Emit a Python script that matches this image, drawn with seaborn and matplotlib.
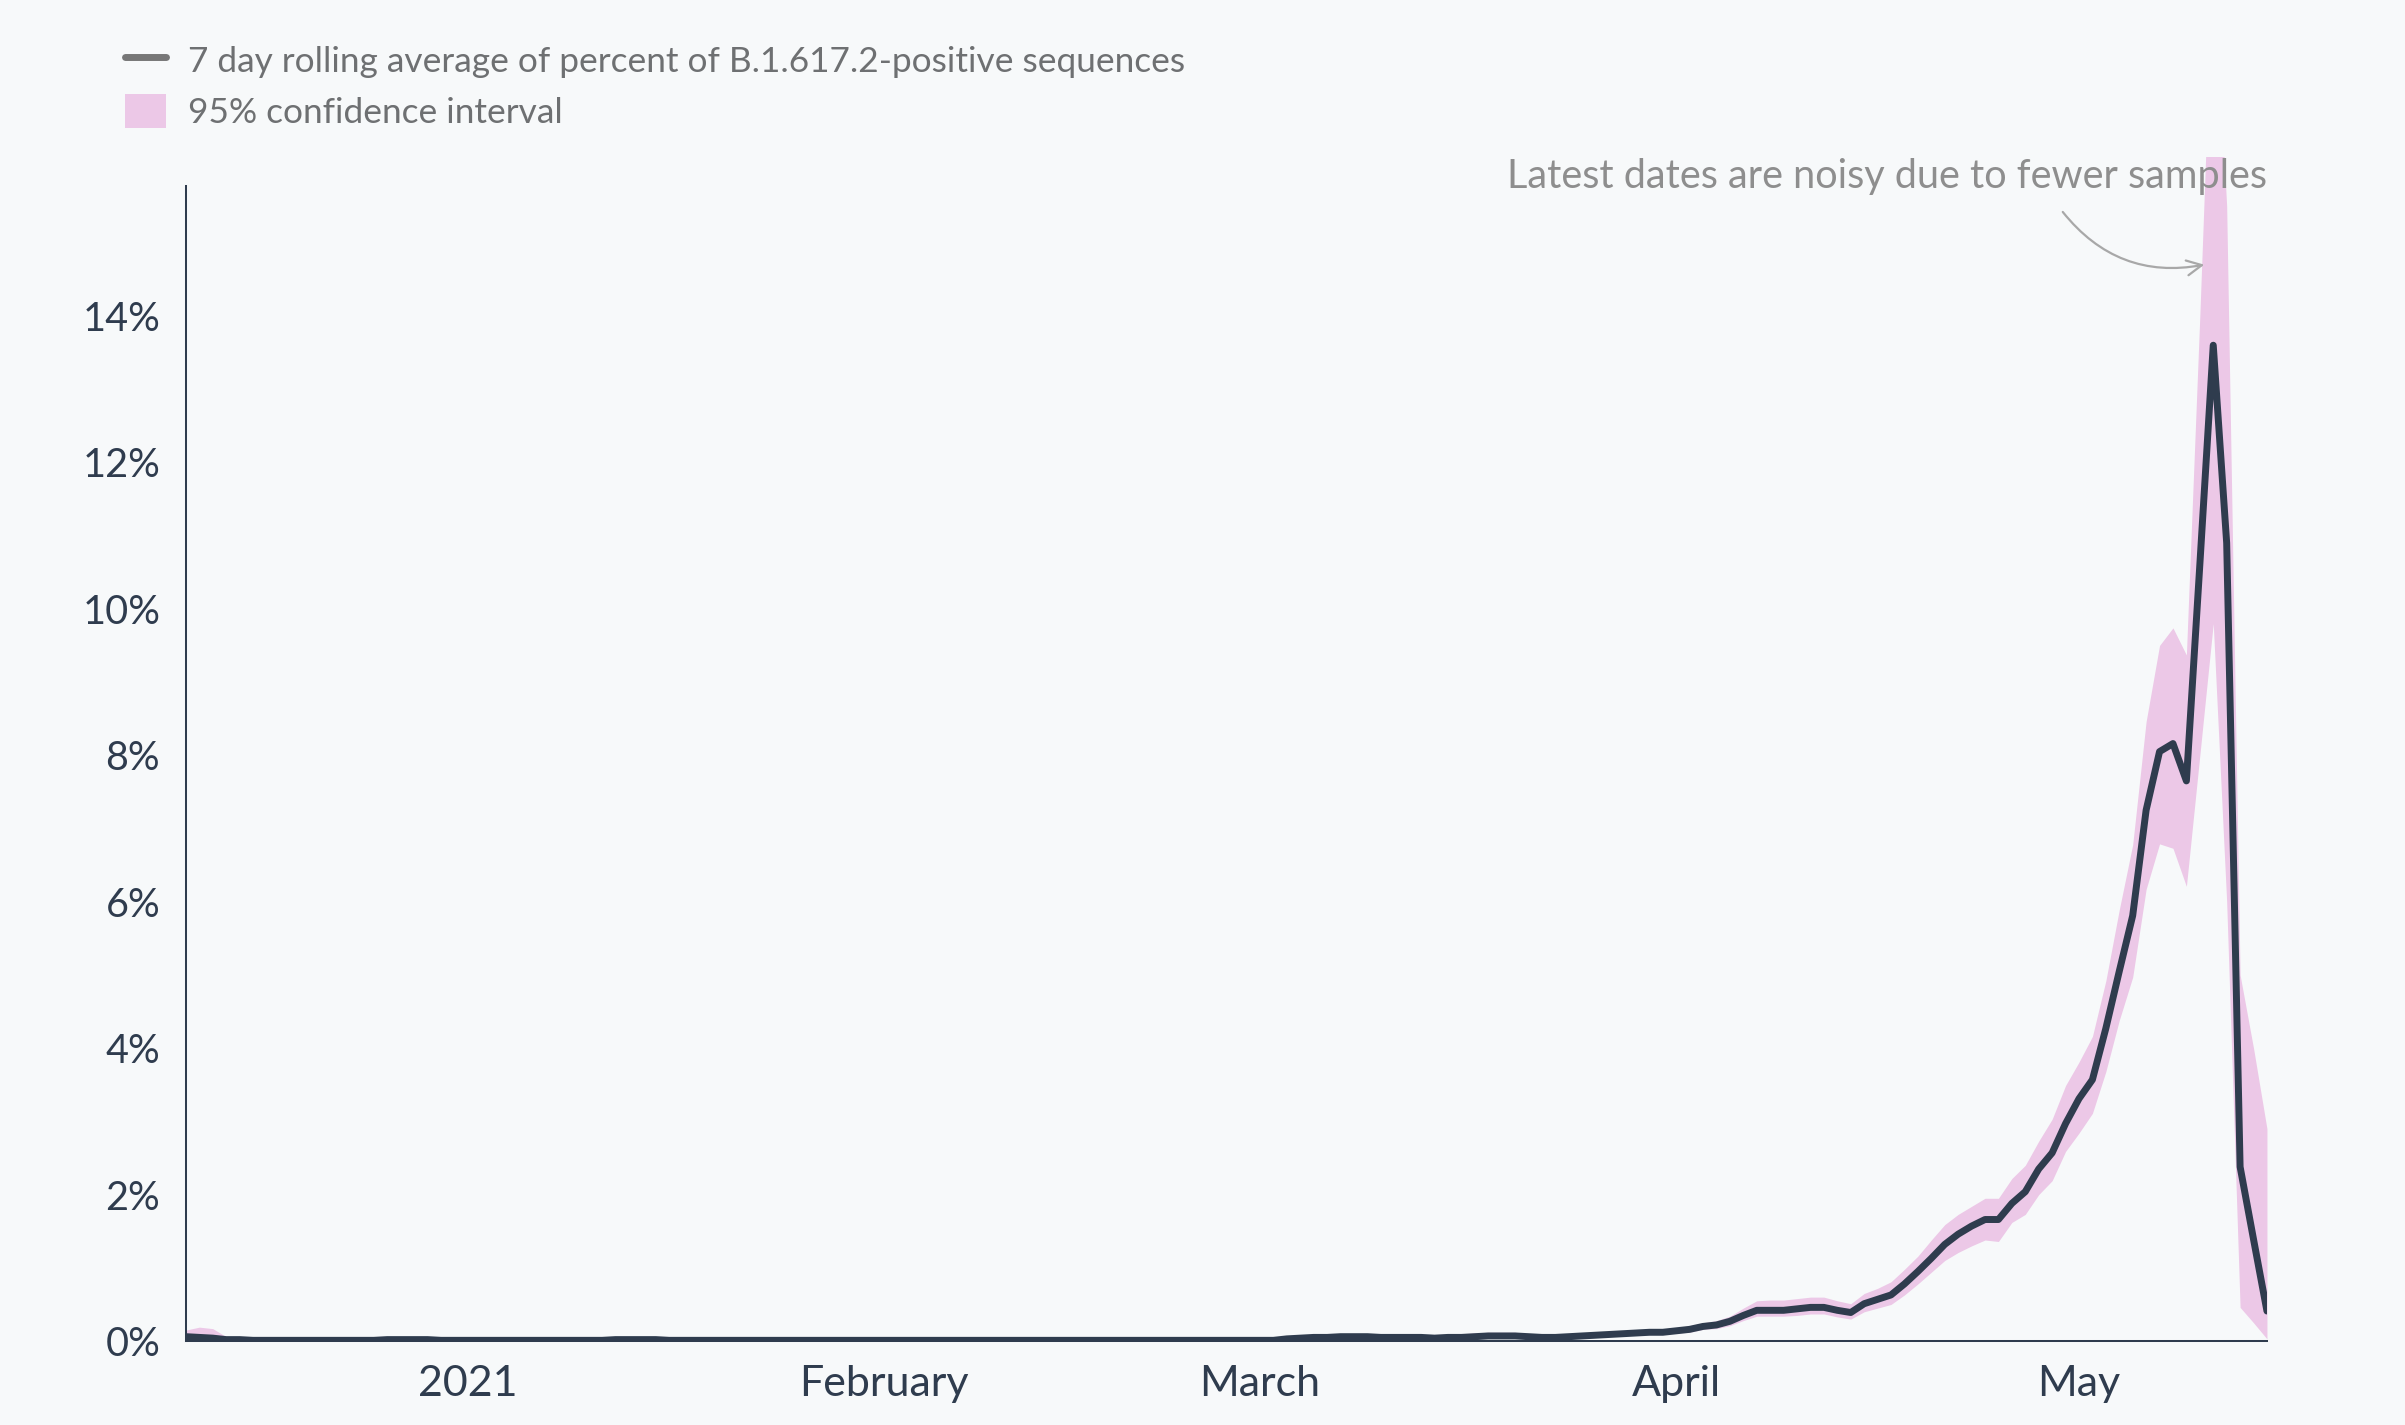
import numpy as np
import pandas as pd
import matplotlib
matplotlib.use("Agg")
import matplotlib.pyplot as plt
from matplotlib.lines import Line2D
from matplotlib.patches import Patch
import seaborn as sns

# daily series, 11 Dec 2020 .. 15 May 2021 (values in percent)
start_date = "2020-12-11"
end_date = "2021-05-15"

rolling_avg = [
    # Dec 11-31
    0.06, 0.05, 0.04, 0.02, 0.02, 0.01, 0.01, 0.01, 0.01, 0.01, 0.01,
    0.01, 0.01, 0.01, 0.01, 0.02, 0.02, 0.02, 0.02, 0.01, 0.01,
    # Jan
    0.01, 0.01, 0.01, 0.01, 0.01, 0.01, 0.01, 0.01, 0.01, 0.01,
    0.01, 0.02, 0.02, 0.02, 0.02, 0.01, 0.01, 0.01, 0.01, 0.01,
    0.01, 0.01, 0.01, 0.01, 0.01, 0.01, 0.01, 0.01, 0.01, 0.01, 0.01,
    # Feb
    0.01, 0.01, 0.01, 0.01, 0.01, 0.01, 0.01, 0.01, 0.01, 0.01,
    0.01, 0.01, 0.01, 0.01, 0.01, 0.01, 0.01, 0.01, 0.01, 0.01,
    0.01, 0.01, 0.01, 0.01, 0.01, 0.01, 0.01, 0.01,
    # Mar
    0.01, 0.01, 0.03, 0.04, 0.05, 0.05, 0.06, 0.06, 0.06, 0.05,
    0.05, 0.05, 0.05, 0.04, 0.05, 0.05, 0.06, 0.07, 0.07, 0.07,
    0.06, 0.05, 0.05, 0.06, 0.07, 0.08, 0.09, 0.10, 0.11, 0.12, 0.12,
    # Apr
    0.14, 0.16, 0.20, 0.22, 0.27, 0.35, 0.42, 0.42, 0.42, 0.44,
    0.46, 0.46, 0.42, 0.39, 0.51, 0.57, 0.63, 0.78, 0.95, 1.13,
    1.32, 1.46, 1.57, 1.66, 1.66, 1.88, 2.04, 2.35, 2.57, 2.97,
    # May 1-15
    3.31, 3.57, 4.27, 5.05, 5.81, 7.25, 8.05, 8.16, 7.65, 10.6,
    13.6, 10.9, 2.38, 1.39, 0.41,
]

ci_upper = [
    # Dec 11-31
    0.15, 0.19, 0.17, 0.06, 0.05, 0.04, 0.04, 0.04, 0.04, 0.04, 0.04,
    0.04, 0.04, 0.04, 0.05, 0.05, 0.05, 0.05, 0.05, 0.04, 0.04,
    # Jan
    0.04, 0.04, 0.04, 0.04, 0.04, 0.04, 0.04, 0.04, 0.04, 0.04,
    0.04, 0.05, 0.05, 0.05, 0.05, 0.04, 0.04, 0.04, 0.04, 0.04,
    0.03, 0.03, 0.03, 0.03, 0.03, 0.03, 0.03, 0.03, 0.03, 0.03, 0.03,
    # Feb
    0.03, 0.03, 0.03, 0.03, 0.03, 0.03, 0.03, 0.03, 0.03, 0.03,
    0.03, 0.03, 0.03, 0.03, 0.03, 0.03, 0.03, 0.03, 0.03, 0.03,
    0.03, 0.03, 0.03, 0.03, 0.03, 0.03, 0.03, 0.03,
    # Mar
    0.03, 0.04, 0.07, 0.08, 0.09, 0.09, 0.10, 0.10, 0.10, 0.09,
    0.09, 0.09, 0.09, 0.08, 0.09, 0.10, 0.11, 0.12, 0.12, 0.12,
    0.10, 0.09, 0.09, 0.10, 0.11, 0.12, 0.13, 0.14, 0.15, 0.16, 0.16,
    # Apr
    0.18, 0.21, 0.25, 0.28, 0.34, 0.45, 0.55, 0.56, 0.56, 0.58,
    0.60, 0.60, 0.55, 0.51, 0.65, 0.72, 0.81, 0.98, 1.16, 1.38,
    1.59, 1.73, 1.84, 1.95, 1.95, 2.22, 2.40, 2.73, 3.03, 3.49,
    # May 1-15
    3.81, 4.16, 4.92, 5.89, 6.78, 8.46, 9.50, 9.74, 9.37, 14.0,
    19.0, 15.5, 5.0, 4.0, 2.9,
]

ci_lower = [
    # Dec 11-31
    0.01, 0.01, 0.00, 0.00, 0.00, 0.00, 0.00, 0.00, 0.00, 0.00, 0.00,
    0.00, 0.00, 0.00, 0.00, 0.00, 0.00, 0.00, 0.00, 0.00, 0.00,
    # Jan
    0.00, 0.00, 0.00, 0.00, 0.00, 0.00, 0.00, 0.00, 0.00, 0.00,
    0.00, 0.00, 0.00, 0.00, 0.00, 0.00, 0.00, 0.00, 0.00, 0.00,
    0.00, 0.00, 0.00, 0.00, 0.00, 0.00, 0.00, 0.00, 0.00, 0.00, 0.00,
    # Feb
    0.00, 0.00, 0.00, 0.00, 0.00, 0.00, 0.00, 0.00, 0.00, 0.00,
    0.00, 0.00, 0.00, 0.00, 0.00, 0.00, 0.00, 0.00, 0.00, 0.00,
    0.00, 0.00, 0.00, 0.00, 0.00, 0.00, 0.00, 0.00,
    # Mar
    0.00, 0.00, 0.01, 0.02, 0.02, 0.02, 0.03, 0.03, 0.03, 0.02,
    0.02, 0.02, 0.02, 0.02, 0.02, 0.02, 0.03, 0.04, 0.04, 0.04,
    0.03, 0.02, 0.02, 0.03, 0.04, 0.05, 0.06, 0.07, 0.08, 0.09, 0.09,
    # Apr
    0.11, 0.12, 0.16, 0.17, 0.21, 0.28, 0.34, 0.34, 0.34, 0.35,
    0.37, 0.37, 0.33, 0.30, 0.40, 0.45, 0.50, 0.63, 0.78, 0.94,
    1.10, 1.21, 1.30, 1.38, 1.36, 1.62, 1.73, 2.00, 2.19, 2.59,
    # May 1-15
    2.84, 3.11, 3.68, 4.38, 4.97, 6.17, 6.79, 6.73, 6.21, 8.0,
    9.8, 6.0, 0.46, 0.25, 0.03,
]

tick_dates = ["2021-01-01", "2021-02-01", "2021-03-01", "2021-04-01", "2021-05-01"]
tick_labels = ["2021", "February", "March", "April", "May"]
y_ticks = [0, 2, 4, 6, 8, 10, 12, 14]

line_label = "7 day rolling average of percent of B.1.617.2-positive sequences"
band_label = "95% confidence interval"
note_text = "Latest dates are noisy due to fewer samples"

BG = "#f7f9fa"
INK = "#2f3c4e"
PINK = "#ecc8e7"

dates = pd.date_range(start_date, end_date, freq="D")
df = pd.DataFrame({"date": dates, "avg": rolling_avg,
                   "lo": ci_lower, "hi": ci_upper})

sns.set_theme(style="white")
plt.rcParams["font.family"] = ["Lato", "DejaVu Sans"]

fig = plt.figure(figsize=(24.05, 14.25), dpi=100, facecolor=BG)
ax = fig.add_axes([0.0773, 0.0589, 0.8653, 0.8309])
ax.set_facecolor(BG)

ax.fill_between(df["date"], df["lo"], df["hi"], color=PINK, lw=0)
sns.lineplot(data=df, x="date", y="avg", ax=ax, color=INK, lw=5,
             legend=False)

ax.set_xlim(dates[0], dates[-1])
ax.set_ylim(0, 16.17)

# x axis: month ticks plus the two outer ticks at the ends
xt = [dates[0]] + list(pd.to_datetime(tick_dates)) + [dates[-1]]
ax.set_xticks(xt)
ax.set_xticklabels([""] + tick_labels + [""])
ax.set_yticks(y_ticks)
ax.set_yticklabels([f"{v}%" for v in y_ticks])

for side in ["top", "right"]:
    ax.spines[side].set_visible(False)
for side in ["left", "bottom"]:
    ax.spines[side].set_color(INK)
    ax.spines[side].set_linewidth(1.45)
ax.spines["left"].set_bounds(0, 15.77)

ax.tick_params(axis="x", length=9.5, width=1.2, color=INK, pad=8,
               labelsize=31, labelcolor=INK)
ax.tick_params(axis="y", length=12, width=1.2, color=INK, pad=6.5,
               labelsize=28.5, labelcolor=INK)
ax.set_xlabel("")
ax.set_ylabel("")

# annotation about the noisy tail
ax.text(dates[-1], 15.9, note_text, ha="right", va="center",
        fontsize=28.5, color="#8e8e8e", clip_on=False)
ax.annotate("", xy=(pd.Timestamp("2021-05-10 08:00"), 14.7),
            xytext=(pd.Timestamp("2021-04-29 19:00"), 15.42),
            annotation_clip=False,
            arrowprops=dict(arrowstyle="->,head_length=0.9,head_width=0.45",
                            color="#a8a8a8", lw=1.6,
                            connectionstyle="arc3,rad=0.3",
                            shrinkA=0, shrinkB=0))

handles = [Line2D([0], [0], color="#777777", lw=5),
           Patch(facecolor=PINK, edgecolor="none")]
fig.legend(handles, [line_label, band_label], loc="upper left",
           bbox_to_anchor=(0.046, 0.980), frameon=False, fontsize=25.4,
           labelcolor="#6e7072", handlelength=1.16, handleheight=1.13,
           handletextpad=0.62, labelspacing=0.45, borderaxespad=0)

fig.savefig("out.png", dpi=100, facecolor=BG)
